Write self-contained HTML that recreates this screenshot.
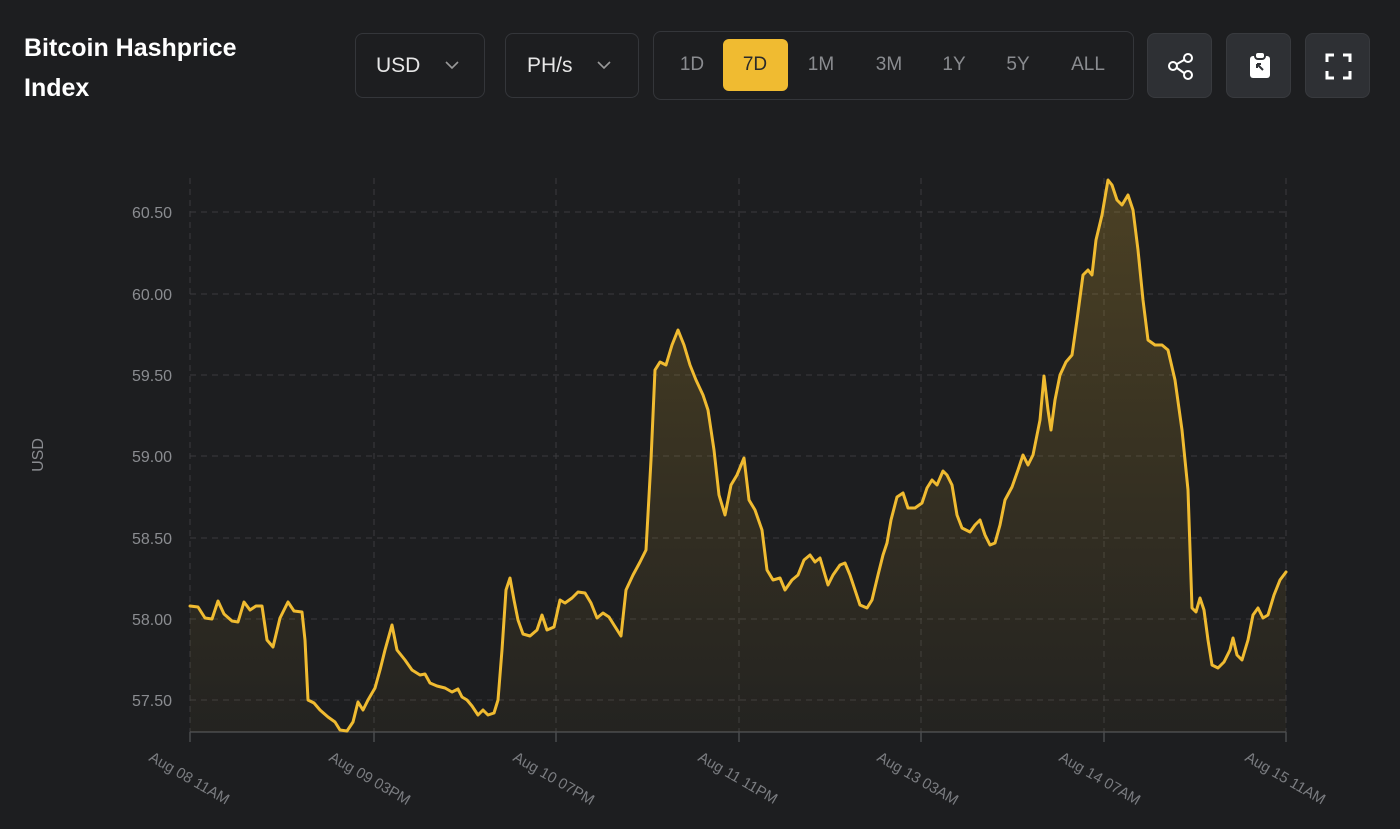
<!DOCTYPE html>
<html><head><style>
body{margin:0;background:#1d1e20;width:1400px;height:829px;overflow:hidden;font-family:"Liberation Sans",sans-serif;}
.t{position:absolute;left:24px;top:28px;color:#fff;font-weight:bold;font-size:25px;line-height:40px;}
.b{position:absolute;border:1px solid #34363a;border-radius:8px;box-sizing:border-box;color:#e6e6e6;font-size:21px;}
.ib{position:absolute;top:33px;width:65px;height:65px;background:#2e3034;border-radius:8px;border:1px solid #383a3e;box-sizing:border-box;}
.tab{position:absolute;top:0;height:52px;line-height:52px;color:#8a8c90;font-size:19px;text-align:center;width:64px;}
.chev{position:absolute;top:26px}
</style></head><body>
<div class="t">Bitcoin Hashprice<br>Index</div>
<div class="b" style="left:355px;top:33px;width:130px;height:65px;line-height:63px;padding-left:20px">USD<svg class="chev" style="left:88px" width="16" height="10"><path d="M2 2 L8 8 L14 2" fill="none" stroke="#999" stroke-width="1.6"/></svg></div>
<div class="b" style="left:505px;top:33px;width:134px;height:65px;line-height:63px;padding-left:21px">PH/s<svg class="chev" style="left:90px" width="16" height="10"><path d="M2 2 L8 8 L14 2" fill="none" stroke="#999" stroke-width="1.6"/></svg></div>
<div class="b" style="left:653px;top:31px;width:481px;height:69px;">
 <div style="position:absolute;left:69px;top:7px;width:65px;height:52px;background:#f0bb31;border-radius:6px"></div>
 <div style="position:absolute;left:0;top:7px;width:100%">
 <div class="tab" style="left:6px">1D</div><div class="tab" style="left:69px;color:#2a2a2a">7D</div><div class="tab" style="left:135px">1M</div><div class="tab" style="left:203px">3M</div><div class="tab" style="left:268px">1Y</div><div class="tab" style="left:332px">5Y</div><div class="tab" style="left:402px">ALL</div></div>
</div>
<div class="ib" style="left:1147px"><svg width="65" height="65"><g fill="none" stroke="#fff" stroke-width="2"><circle cx="40" cy="24" r="4"/><circle cx="25" cy="32" r="4"/><circle cx="40" cy="41" r="4"/><path d="M29 30 L36 26 M29 34 L36 39"/></g></svg></div>
<div class="ib" style="left:1226px"><svg width="65" height="65"><rect x="23" y="22" width="20" height="22" rx="3" fill="#fff"/><rect x="28" y="18" width="10" height="7" rx="3" fill="#fff" stroke="#2e3034" stroke-width="2"/><path d="M30 30 L36 36 M30 30 h4 M30 30 v4" stroke="#2e3034" stroke-width="2"/></svg></div>
<div class="ib" style="left:1305px"><svg width="65" height="65"><g fill="none" stroke="#fff" stroke-width="3"><path d="M21 28 V21 H28 M37 21 H44 V28 M44 37 V44 H37 M28 44 H21 V37"/></g></svg></div>
<svg style="position:absolute;left:0;top:0" width="1400" height="829">
<defs><linearGradient id="g" x1="0" y1="0" x2="0" y2="1"><stop offset="0" stop-color="#f0bb31" stop-opacity="0.22"/><stop offset="1" stop-color="#f0bb31" stop-opacity="0.03"/></linearGradient></defs>
<g stroke="#3a3b3e" stroke-dasharray="6,5" stroke-width="1">
<path d="M190 212H1286M190 294H1286M190 375H1286M190 456H1286M190 538H1286M190 619H1286M190 700H1286"/>
<path d="M190 178V732M374 178V732M556 178V732M739 178V732M921 178V732M1104 178V732M1286 178V732"/>
</g>
<path d="M190 732H1286M190 732v10M374 732v10M556 732v10M739 732v10M921 732v10M1104 732v10M1286 732v10" stroke="#4a4b4e" stroke-width="1.5"/>
<g fill="#8a8c90" font-size="16" text-anchor="end">
<text x="172" y="218">60.50</text><text x="172" y="300">60.00</text><text x="172" y="381">59.50</text><text x="172" y="462">59.00</text><text x="172" y="544">58.50</text><text x="172" y="625">58.00</text><text x="172" y="706">57.50</text>
</g>
<text x="43" y="455" fill="#8a8c90" font-size="16" text-anchor="middle" transform="rotate(-90 43 455)">USD</text>
<g fill="#7a7c80" font-size="15">
<text transform="translate(148 760) rotate(30)">Aug 08 11AM</text>
<text transform="translate(328 760) rotate(30)">Aug 09 03PM</text>
<text transform="translate(512 760) rotate(30)">Aug 10 07PM</text>
<text transform="translate(697 760) rotate(30)">Aug 11 11PM</text>
<text transform="translate(876 760) rotate(30)">Aug 13 03AM</text>
<text transform="translate(1058 760) rotate(30)">Aug 14 07AM</text>
<text transform="translate(1244 760) rotate(30)">Aug 15 11AM</text>
</g>
<path d="M190 606L198 607L205 618L212 619L218 601L224 614L232 621L238 622L244 602L250 610L256 606L262 606L267 640L273 647L280 618L288 602L294 611L302 612L305 640L308 700L314 703L320 710L328 717L335 722L340 730L347 731L353 722L358 702L363 710L368 700L375 688L380 670L385 650L392 625L397 650L405 660L412 670L420 675L425 674L430 683L437 686L445 688L452 692L458 689L462 697L467 700L472 706L478 715L483 710L488 715L494 713L498 700L502 650L506 590L510 578L514 600L518 620L523 634L530 636L537 630L542 615L547 630L554 627L560 600L565 603L572 598L578 592L585 593L591 603L597 618L603 613L609 617L614 625L621 636L626 590L633 575L640 562L646 550L651 460L655 370L660 362L666 365L672 345L678 330L684 345L690 365L696 380L703 395L708 410L714 450L719 495L725 515L731 485L737 475L744 458L749 500L755 510L762 530L767 570L773 580L780 578L785 590L792 580L798 575L804 560L810 555L815 562L820 558L825 575L828 585L833 575L840 565L845 563L850 575L855 590L860 605L867 608L872 600L878 575L883 555L887 543L891 520L897 497L903 493L908 508L915 508L922 503L927 488L932 480L937 485L943 471L947 475L952 485L957 515L962 528L970 532L975 525L980 520L985 535L990 545L995 543L1000 525L1005 500L1012 487L1018 470L1023 455L1028 465L1033 455L1040 420L1044 376L1048 410L1051 430L1055 400L1060 375L1066 362L1072 355L1077 320L1083 275L1088 270L1092 275L1096 240L1102 215L1108 180L1112 185L1117 200L1122 205L1128 195L1133 210L1138 250L1143 300L1148 340L1155 345L1162 345L1168 350L1175 380L1182 430L1188 490L1192 608L1196 612L1200 598L1204 610L1208 640L1212 665L1218 668L1224 662L1230 650L1233 638L1237 655L1242 660L1248 640L1253 615L1258 608L1263 618L1268 615L1274 595L1280 580L1286 572L1286 732L190 732Z" fill="url(#g)"/>
<path fill="none" stroke="#f0bb31" stroke-width="3" stroke-linejoin="round" stroke-linecap="round" d="M190 606L198 607L205 618L212 619L218 601L224 614L232 621L238 622L244 602L250 610L256 606L262 606L267 640L273 647L280 618L288 602L294 611L302 612L305 640L308 700L314 703L320 710L328 717L335 722L340 730L347 731L353 722L358 702L363 710L368 700L375 688L380 670L385 650L392 625L397 650L405 660L412 670L420 675L425 674L430 683L437 686L445 688L452 692L458 689L462 697L467 700L472 706L478 715L483 710L488 715L494 713L498 700L502 650L506 590L510 578L514 600L518 620L523 634L530 636L537 630L542 615L547 630L554 627L560 600L565 603L572 598L578 592L585 593L591 603L597 618L603 613L609 617L614 625L621 636L626 590L633 575L640 562L646 550L651 460L655 370L660 362L666 365L672 345L678 330L684 345L690 365L696 380L703 395L708 410L714 450L719 495L725 515L731 485L737 475L744 458L749 500L755 510L762 530L767 570L773 580L780 578L785 590L792 580L798 575L804 560L810 555L815 562L820 558L825 575L828 585L833 575L840 565L845 563L850 575L855 590L860 605L867 608L872 600L878 575L883 555L887 543L891 520L897 497L903 493L908 508L915 508L922 503L927 488L932 480L937 485L943 471L947 475L952 485L957 515L962 528L970 532L975 525L980 520L985 535L990 545L995 543L1000 525L1005 500L1012 487L1018 470L1023 455L1028 465L1033 455L1040 420L1044 376L1048 410L1051 430L1055 400L1060 375L1066 362L1072 355L1077 320L1083 275L1088 270L1092 275L1096 240L1102 215L1108 180L1112 185L1117 200L1122 205L1128 195L1133 210L1138 250L1143 300L1148 340L1155 345L1162 345L1168 350L1175 380L1182 430L1188 490L1192 608L1196 612L1200 598L1204 610L1208 640L1212 665L1218 668L1224 662L1230 650L1233 638L1237 655L1242 660L1248 640L1253 615L1258 608L1263 618L1268 615L1274 595L1280 580L1286 572"/>
</svg>
</body></html>
